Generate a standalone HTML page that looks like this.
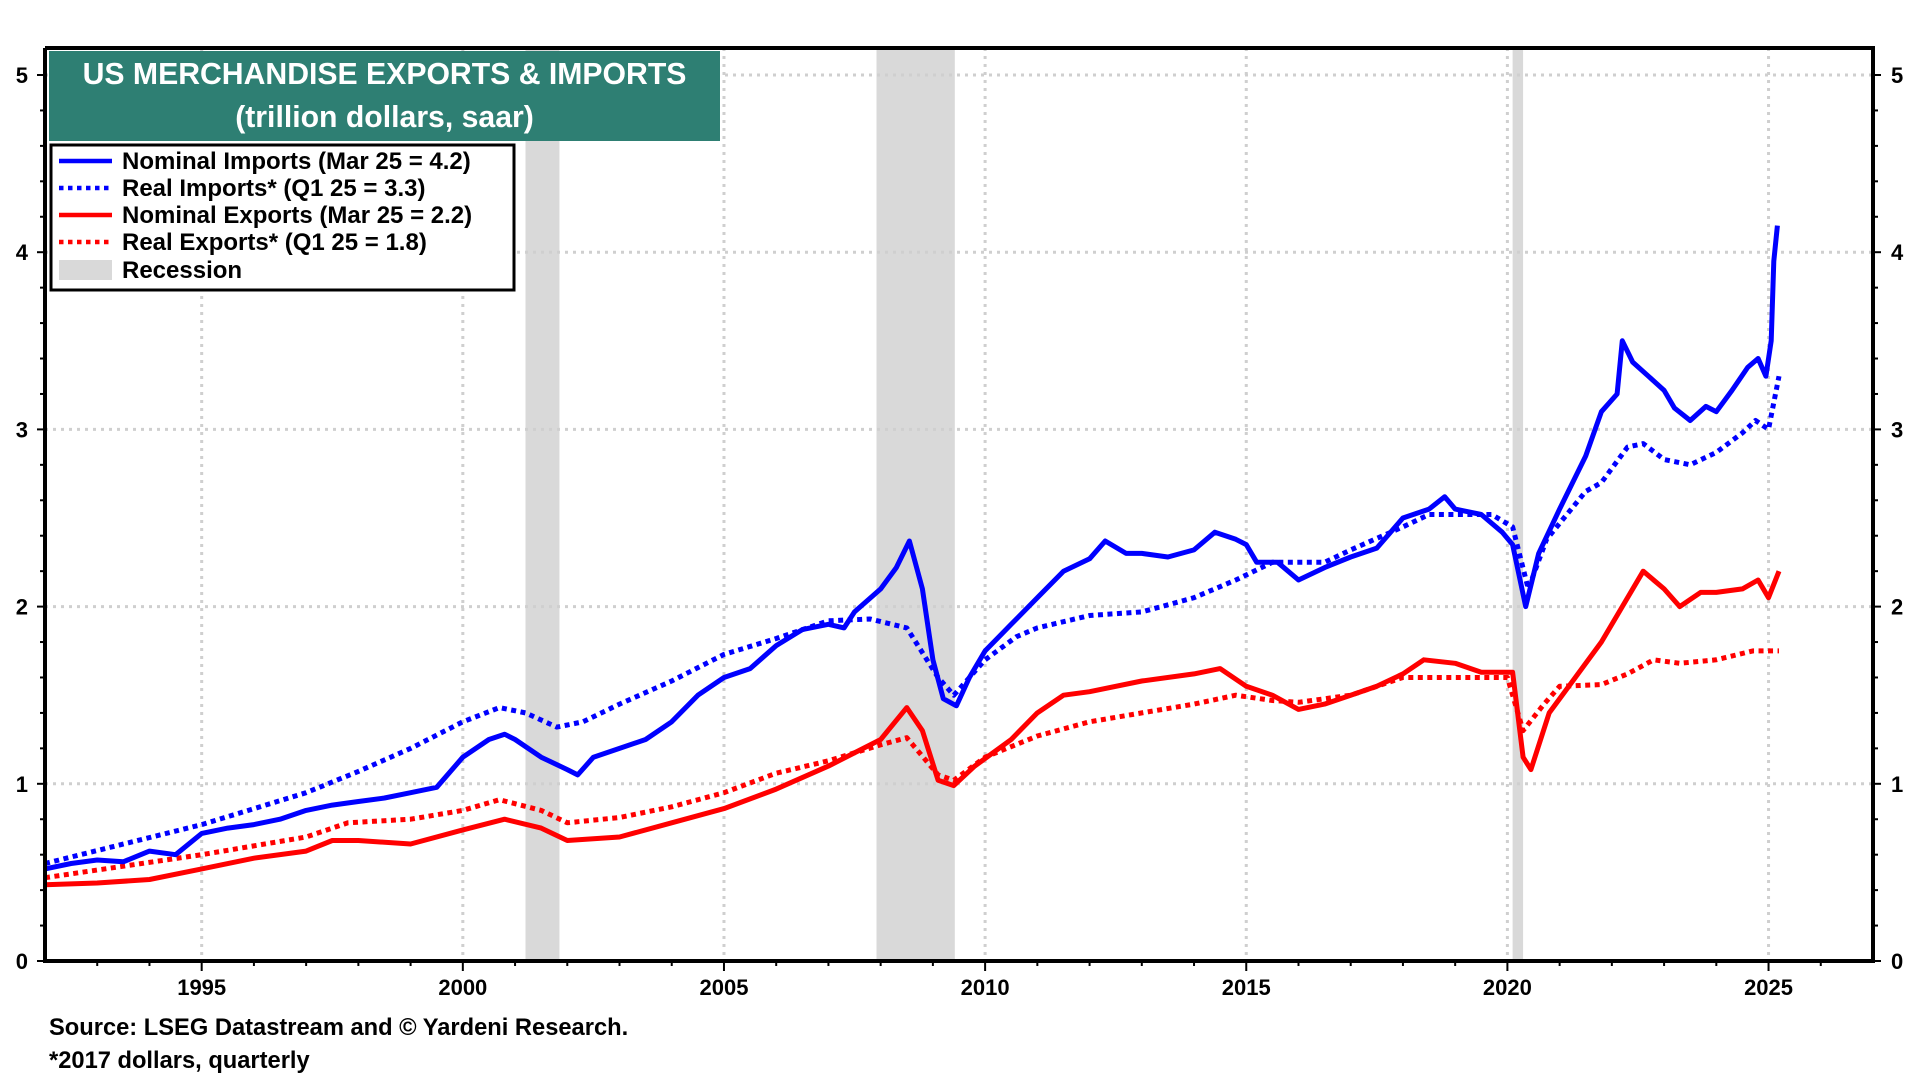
<!DOCTYPE html>
<html><head><meta charset="utf-8">
<style>
html,body{margin:0;padding:0;background:#fff;width:1920px;height:1080px;overflow:hidden;font-family:"Liberation Sans",Arial,sans-serif;}
svg text{font-family:"Liberation Sans",Arial,sans-serif;font-weight:bold;}
</style></head>
<body>
<svg id="chart" width="1920" height="1080" xmlns="http://www.w3.org/2000/svg">
<g id="recessions"></g>
<g id="grid"></g>
<g id="series"></g>
<g id="axes"></g>
<g>
<rect x="49" y="51" width="671" height="90" fill="#2e7f73"/>
<text x="384.5" y="84" fill="#fff" font-size="30.2" text-anchor="middle">US MERCHANDISE EXPORTS &amp; IMPORTS</text>
<text x="384.5" y="127" fill="#fff" font-size="30.2" text-anchor="middle">(trillion dollars, saar)</text>
</g>
<g>
<rect x="51" y="145" width="463" height="145" fill="#fff" stroke="#000" stroke-width="3"/>
<g><line x1="59" y1="161" x2="112" y2="161" stroke="#0000ff" stroke-width="4.5"/><text x="122" y="169" font-size="24">Nominal Imports (Mar 25 = 4.2)</text></g>
<g><line x1="59" y1="188" x2="112" y2="188" stroke="#0000ff" stroke-width="4.5" stroke-dasharray="4.5 4.5"/><text x="122" y="196" font-size="24">Real Imports* (Q1 25 = 3.3)</text></g>
<g><line x1="59" y1="215" x2="112" y2="215" stroke="#ff0000" stroke-width="4.5"/><text x="122" y="223" font-size="24">Nominal Exports (Mar 25 = 2.2)</text></g>
<g><line x1="59" y1="242" x2="112" y2="242" stroke="#ff0000" stroke-width="4.5" stroke-dasharray="4.5 4.5"/><text x="122" y="250" font-size="24">Real Exports* (Q1 25 = 1.8)</text></g>
<g><rect x="59" y="260" width="53" height="20" fill="#d9d9d9"/><text x="122" y="278" font-size="24">Recession</text></g>
</g>
<text x="49" y="1035" font-size="23.7">Source: LSEG Datastream and © Yardeni Research.</text>
<text x="49" y="1068" font-size="23.7">*2017 dollars, quarterly</text>
</svg>
<script>
const yearTicks=[1995,2000,2005,2010,2015,2020,2025];
const valueTicks=[0,1,2,3,4,5];
const recessionStart=[2001.2,2007.92,2020.1];
const recessionEnd=[2001.85,2009.42,2020.3];

const nomImpX=[1992,1992.5,1993,1993.5,1994,1994.5,1995,1995.5,1996,1996.5,1997,1997.5,1998,1998.5,1999,1999.5,2000,2000.5,2000.8,2001,2001.5,2002,2002.2,2002.5,2003,2003.5,2004,2004.5,2005,2005.5,2006,2006.5,2007,2007.3,2007.5,2008,2008.3,2008.55,2008.8,2009,2009.2,2009.45,2009.7,2010,2010.5,2011,2011.5,2012,2012.3,2012.7,2013,2013.5,2014,2014.4,2014.8,2015,2015.2,2015.6,2016,2016.5,2017,2017.5,2018,2018.5,2018.8,2019,2019.5,2019.9,2020.1,2020.35,2020.6,2021,2021.5,2021.8,2022.1,2022.2,2022.4,2022.7,2023,2023.2,2023.5,2023.8,2024,2024.3,2024.6,2024.8,2024.95,2025.05,2025.1,2025.17];
const nomImpY=[0.52,0.55,0.57,0.56,0.62,0.6,0.72,0.75,0.77,0.8,0.85,0.88,0.9,0.92,0.95,0.98,1.15,1.25,1.28,1.25,1.15,1.08,1.05,1.15,1.2,1.25,1.35,1.5,1.6,1.65,1.78,1.87,1.9,1.88,1.97,2.1,2.22,2.37,2.1,1.7,1.48,1.44,1.6,1.75,1.9,2.05,2.2,2.27,2.37,2.3,2.3,2.28,2.32,2.42,2.38,2.35,2.25,2.25,2.15,2.22,2.28,2.33,2.5,2.55,2.62,2.55,2.52,2.42,2.35,2.0,2.3,2.55,2.85,3.1,3.2,3.5,3.38,3.3,3.22,3.12,3.05,3.13,3.1,3.22,3.35,3.4,3.3,3.5,3.95,4.15];

const realImpX=[1992,1995,1997,1998,1999,2000,2000.7,2001.2,2001.8,2002.3,2003,2004,2005,2006,2007,2007.8,2008.5,2009.1,2009.4,2010,2010.6,2011,2012,2013,2014,2014.8,2015.5,2016,2016.5,2017,2018,2018.5,2019,2019.7,2020.1,2020.4,2020.75,2021.5,2021.8,2022.3,2022.6,2023,2023.5,2024,2024.5,2024.75,2025,2025.2];
const realImpY=[0.55,0.77,0.95,1.07,1.2,1.35,1.43,1.4,1.32,1.35,1.45,1.58,1.73,1.82,1.92,1.93,1.88,1.6,1.5,1.7,1.83,1.88,1.95,1.97,2.05,2.15,2.25,2.25,2.25,2.32,2.45,2.52,2.52,2.52,2.45,2.1,2.38,2.65,2.7,2.9,2.92,2.83,2.8,2.87,2.98,3.05,3.0,3.3];

const nomExpX=[1992,1993,1994,1995,1996,1997,1997.5,1998,1999,2000,2000.8,2001.5,2002,2003,2004,2005,2006,2007,2008,2008.5,2008.8,2009.1,2009.4,2009.8,2010.5,2011,2011.5,2012,2013,2014,2014.5,2015,2015.5,2016,2016.5,2017,2017.5,2018,2018.4,2019,2019.5,2020.1,2020.3,2020.45,2020.8,2021.3,2021.8,2022.2,2022.6,2023,2023.3,2023.7,2024,2024.5,2024.8,2025.0,2025.2];
const nomExpY=[0.43,0.44,0.46,0.52,0.58,0.62,0.68,0.68,0.66,0.74,0.8,0.75,0.68,0.7,0.78,0.86,0.97,1.1,1.25,1.43,1.3,1.02,0.99,1.1,1.25,1.4,1.5,1.52,1.58,1.62,1.65,1.55,1.5,1.42,1.45,1.5,1.55,1.62,1.7,1.68,1.63,1.63,1.15,1.08,1.4,1.6,1.8,2.0,2.2,2.1,2.0,2.08,2.08,2.1,2.15,2.05,2.2];

const realExpX=[1992,1995,1997,1997.8,1999,2000,2000.7,2001.5,2002,2003,2004,2005,2006,2007,2008,2008.5,2009.1,2009.4,2010,2011,2012,2013,2014,2014.8,2015.5,2016,2017,2018,2019,2020,2020.3,2020.7,2021,2021.8,2022.3,2022.8,2023.3,2024,2024.7,2025.2];
const realExpY=[0.47,0.6,0.7,0.78,0.8,0.85,0.91,0.85,0.78,0.81,0.87,0.95,1.06,1.13,1.22,1.26,1.05,1.02,1.15,1.27,1.35,1.4,1.45,1.5,1.47,1.46,1.5,1.6,1.6,1.6,1.3,1.45,1.55,1.56,1.62,1.7,1.68,1.7,1.75,1.75];

const L=45,R=1873,T=48,B=961;
const X0=1992,X1=2027;
const y5=75;
function xs(v){return L+(v-X0)*(R-L)/(X1-X0);}
function ys(v){return B-v*(B-y5)/5;}
const NS="http://www.w3.org/2000/svg";
function mk(tag,attrs,parent){const e=document.createElementNS(NS,tag);for(const k in attrs)e.setAttribute(k,attrs[k]);parent.appendChild(e);return e;}

const rec=document.getElementById('recessions');
for(let i=0;i<recessionStart.length;i++){
 const r=mk('rect',{x:xs(recessionStart[i]),y:T,width:xs(recessionEnd[i])-xs(recessionStart[i]),height:B-T,fill:'#d9d9d9'},rec);
 
 
}
const grid=document.getElementById('grid');
yearTicks.forEach(t=>{const l=mk('line',{x1:xs(t),x2:xs(t),y1:T,y2:B,stroke:'#cfcfcf','stroke-width':3,'stroke-dasharray':'3 5'},grid);
 
 });
valueTicks.forEach(t=>{if(t===0)return;const l=mk('line',{x1:L,x2:R,y1:ys(t),y2:ys(t),stroke:'#cfcfcf','stroke-width':3,'stroke-dasharray':'3 5'},grid);
 
 });

const ser=document.getElementById('series');
function drawLine(xa,ya,color,dash,name){
 const d=xa.map((x,i)=>(i?'L':'M')+xs(x).toFixed(1)+','+ys(ya[i]).toFixed(1)).join('');
 const p=mk('path',{d:d,fill:'none',stroke:color,'stroke-width':5,'stroke-linejoin':'round'},ser);
 if(dash)p.setAttribute('stroke-dasharray','5 4.5');
 
 
}
drawLine(realExpX,realExpY,'#ff0000',true,'real-exports-line');
drawLine(realImpX,realImpY,'#0000ff',true,'real-imports-line');
drawLine(nomExpX,nomExpY,'#ff0000',false,'nominal-exports-line');
drawLine(nomImpX,nomImpY,'#0000ff',false,'nominal-imports-line');

const ax=document.getElementById('axes');
mk('path',{d:`M${L},${T}L${L},${B}L${R},${B}L${R},${T}L${L},${T}`,fill:'none',stroke:'#000','stroke-width':4},ax);
for(let v=0;v<=5.2;v+=0.2){
 const major=Math.abs(v-Math.round(v))<1e-6;
 const len=major?8:5;
 mk('line',{x1:L-len,x2:L,y1:ys(v),y2:ys(v),stroke:'#000','stroke-width':2},ax);
 mk('line',{x1:R,x2:R+len,y1:ys(v),y2:ys(v),stroke:'#000','stroke-width':2},ax);
}
for(let yr=1993;yr<=2026;yr++){
 const major=yr%5===0;
 mk('line',{x1:xs(yr),x2:xs(yr),y1:B,y2:B+(major?10:5),stroke:'#000','stroke-width':2},ax);
}
valueTicks.forEach(t=>{
 const a=mk('text',{x:28,y:ys(t)+8,'font-size':22,'text-anchor':'end'},ax);a.textContent=t;
 
 
 const b=mk('text',{x:1891,y:ys(t)+8,'font-size':22},ax);b.textContent=t;
 
 
});
yearTicks.forEach(t=>{
 const a=mk('text',{x:xs(t),y:995,'font-size':22,'text-anchor':'middle'},ax);a.textContent=t;
 
 
});
</script>
</body></html>
